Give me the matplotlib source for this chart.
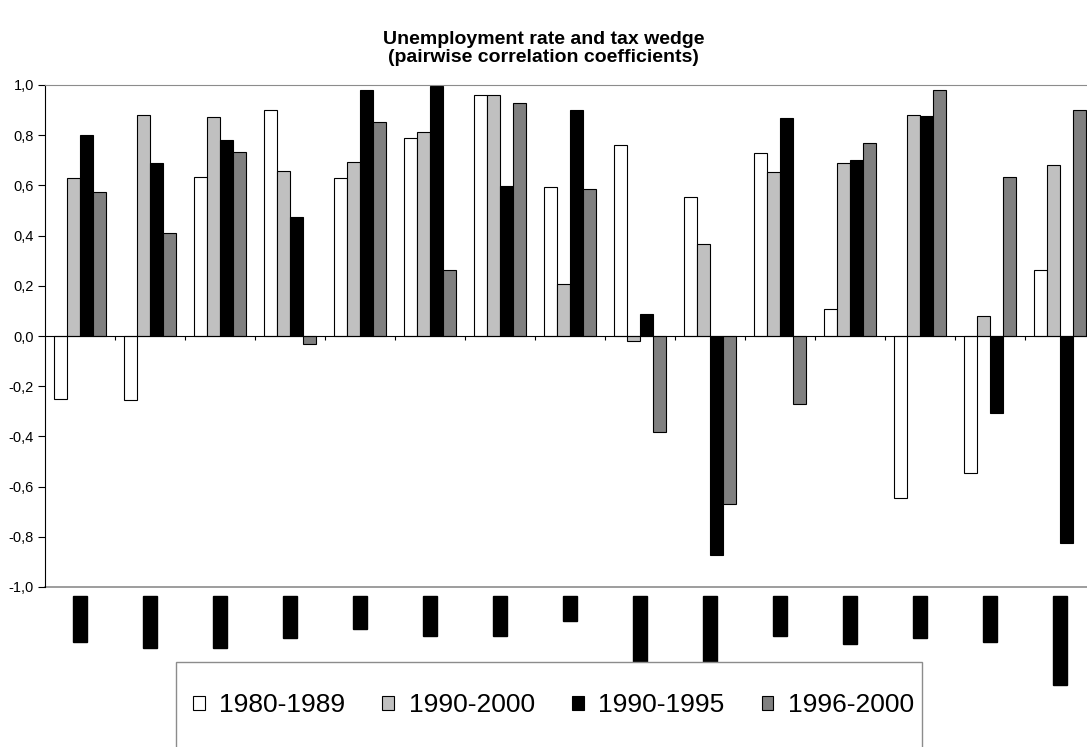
import numpy as np
import matplotlib as mpl
import matplotlib.pyplot as plt
from matplotlib.patches import Rectangle
from matplotlib.ticker import FuncFormatter

# data
countries = ['Belgium', 'Denmark', 'Germany', 'Greece', 'Spain', 'France', 'Ireland',
             'Italy', 'Luxembourg', 'Netherlands', 'Austria', 'Portugal', 'Finland',
             'Sweden', 'United Kingdom']
periods = ['1980-1989', '1990-2000', '1990-1995', '1996-2000']
p1980_1989 = [-0.25, -0.255, 0.635, 0.90, 0.628, 0.788, 0.96, 0.595, 0.761, 0.555,
              0.728, 0.106, -0.645, -0.546, 0.264]
p1990_2000 = [0.628, 0.882, 0.874, 0.656, 0.695, 0.814, 0.96, 0.206, -0.02, 0.365,
              0.655, 0.689, 0.882, 0.081, 0.681]
p1990_1995 = [0.80, 0.69, 0.78, 0.473, 0.98, 0.998, 0.598, 0.902, 0.086, -0.872,
              0.867, 0.702, 0.875, -0.307, -0.825]
p1996_2000 = [0.575, 0.41, 0.734, -0.033, 0.854, 0.264, 0.927, 0.584, -0.382, -0.67,
              -0.271, 0.769, 0.979, 0.635, 0.90]
series = [p1980_1989, p1990_2000, p1990_1995, p1996_2000]
colors = ['white', '#c0c0c0', 'black', '#808080']

# configuration
mpl.rcParams['font.family'] = ['Liberation Sans', 'DejaVu Sans']
W, H = 1087, 747
fig = plt.figure(figsize=(W / 100, H / 100), dpi=100)
ax = fig.add_axes([45 / W, 1 - 587 / H, 1050 / W, (587 - 85) / H])

x = np.arange(len(countries))
w = 0.186
for k, (vals, c) in enumerate(zip(series, colors)):
    ax.bar(x + (k - 1.5) * w, vals, width=w, color=c, edgecolor='black',
           linewidth=0.8, label=periods[k], zorder=2)

# axes
ax.set_xlim(-0.5, len(countries) - 0.5)
ax.set_ylim(-1, 1)
yt = [-1.0, -0.8, -0.6, -0.4, -0.2, 0.0, 0.2, 0.4, 0.6, 0.8, 1.0]
ax.set_yticks(yt)
ax.yaxis.set_major_formatter(FuncFormatter(lambda v, p: f"{v:.1f}".replace('.', ',')))
ax.tick_params(axis='y', direction='out', length=5, labelsize=10.5, width=0.8, pad=3)
ax.set_xticks(x[:-1] + 0.5)
ax.set_xticklabels([])
ax.tick_params(axis='x', direction='out', length=3, width=0.8)
ax.spines['bottom'].set_position(('data', 0))
ax.spines['bottom'].set_linewidth(0.8)
ax.spines['left'].set_linewidth(0.8)
ax.spines['right'].set_visible(False)
ax.spines['top'].set_color('#8c8c8c')
ax.axhline(-1, color='#8c8c8c', lw=1.2, clip_on=False, zorder=1)

# category labels (rendered as black blocks)
for xi, name in zip(x, countries):
    ax.text(xi, -1.04, name, rotation=90, ha='center', va='top', fontsize=8.7,
            color='black', clip_on=False,
            bbox=dict(facecolor='black', edgecolor='black', pad=1.0))

# title
fig.text(0.5, 1 - 40 / H, 'Unemployment rate and tax wedge', ha='center', va='center',
         fontsize=14, fontweight='bold')
fig.text(0.5, 1 - 58 / H, '(pairwise correlation coefficients)', ha='center',
         va='center', fontsize=14, fontweight='bold')

# legend
fig.patches.append(Rectangle((176 / W, 1 - 770 / H), (922 - 176) / W, (770 - 662) / H,
                             transform=fig.transFigure, facecolor='white',
                             edgecolor='#8c8c8c', lw=1, zorder=3))
fig.legend(loc='center left', bbox_to_anchor=(193 / W, 1 - 705 / H), ncol=4,
           frameon=False, fontsize=19, handlelength=0.45, handleheight=0.45,
           handletextpad=0.55, columnspacing=1.4, borderpad=0, borderaxespad=0)

plt.savefig('out.png', dpi=100)
